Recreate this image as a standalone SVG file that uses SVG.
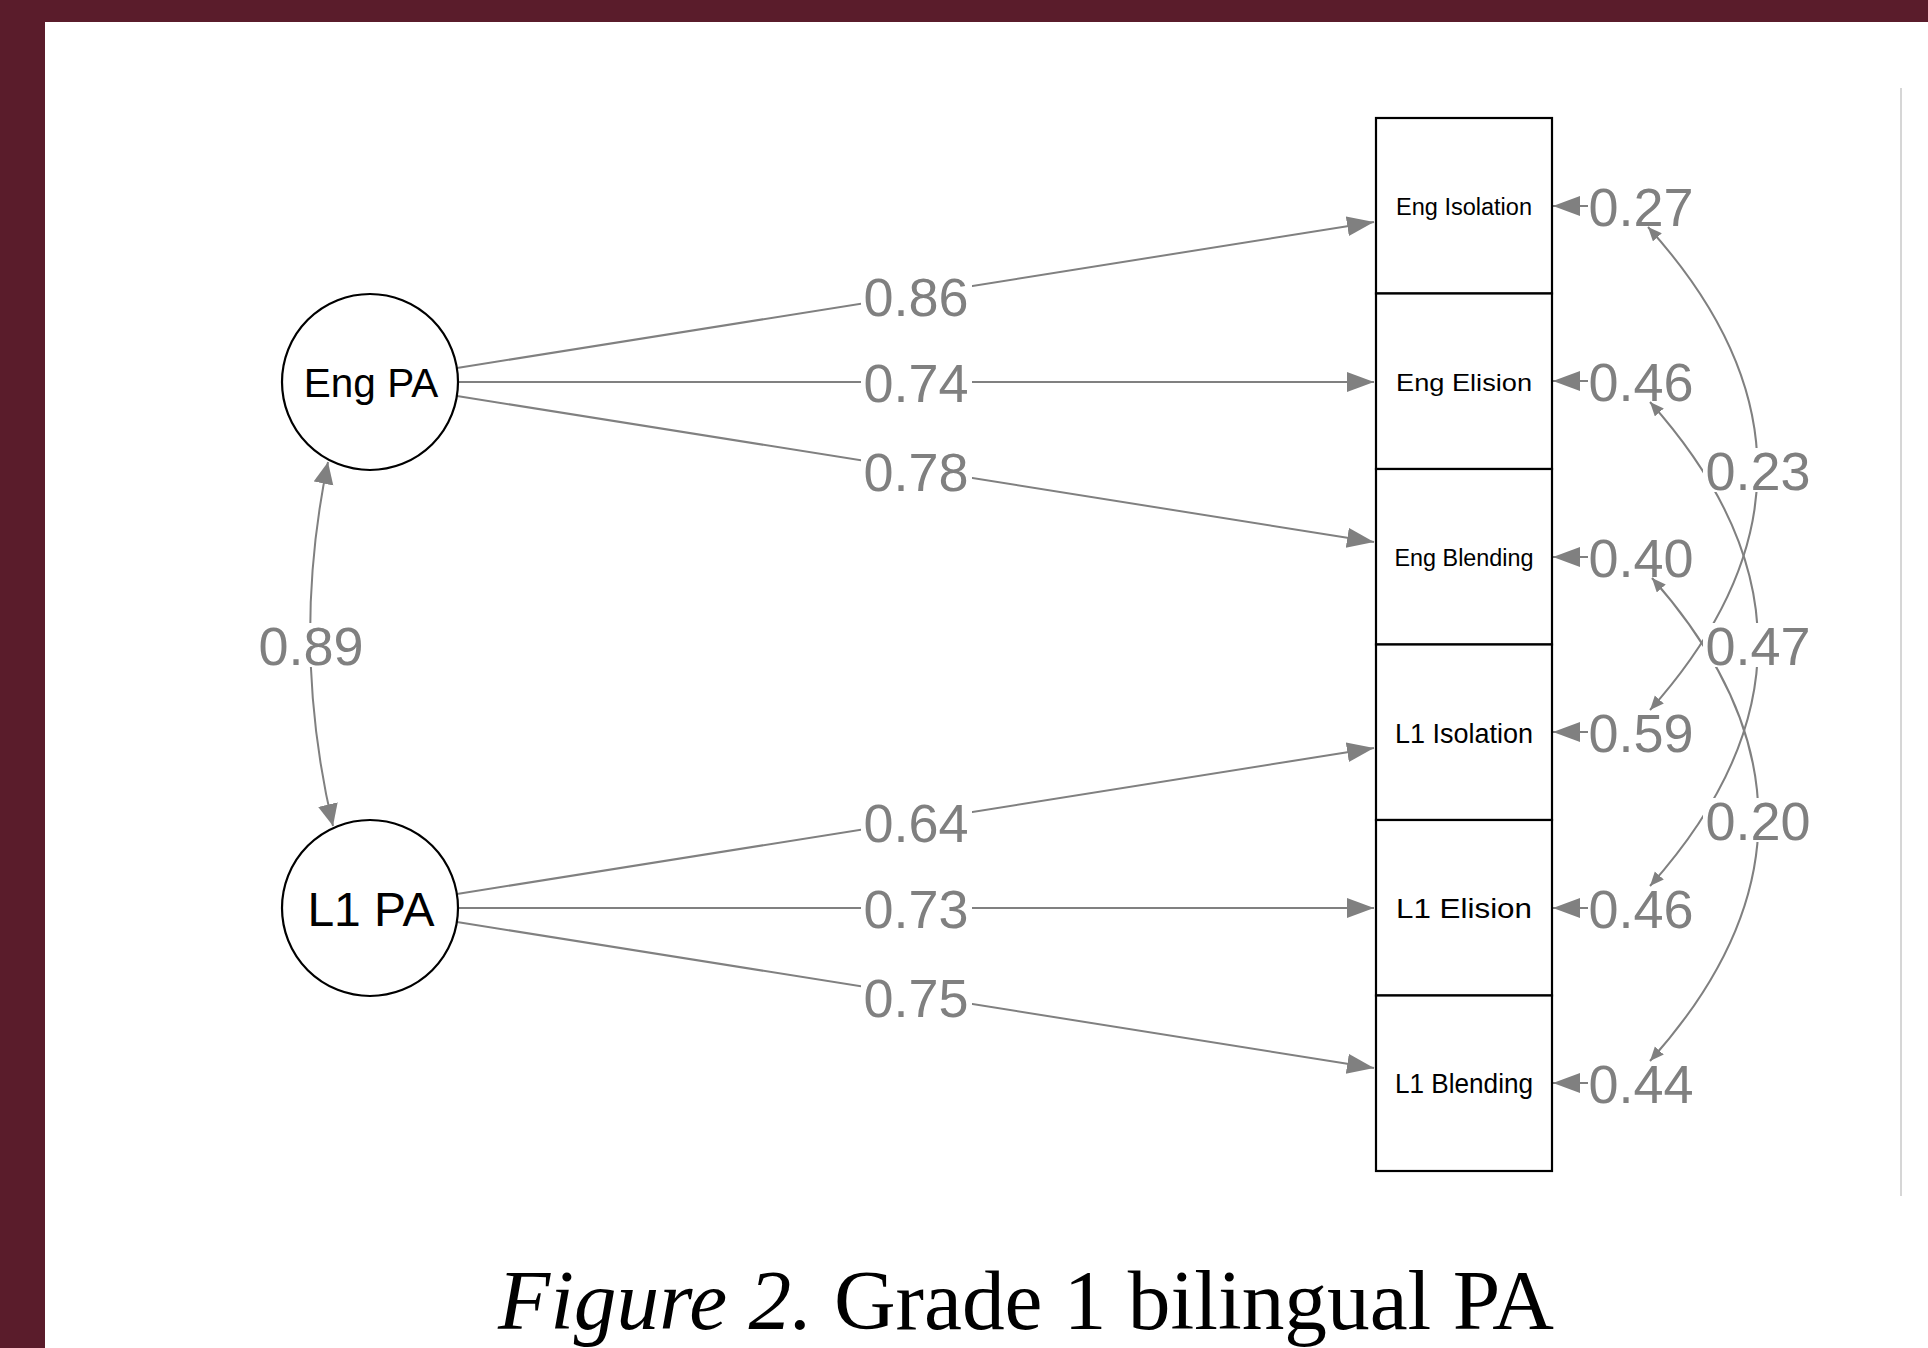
<svg xmlns="http://www.w3.org/2000/svg" width="1928" height="1348" viewBox="0 0 1928 1348">
<style>
.edge{stroke:#808080;stroke-width:2;fill:none}
.lbl{font-family:"Liberation Sans",Arial,sans-serif;font-size:54px;fill:#808080;text-anchor:middle}
.bg{fill:#ffffff}
.box{fill:#ffffff;stroke:#000000;stroke-width:2.2}
.node{fill:#ffffff;stroke:#000000;stroke-width:2.2}
.ntxt{font-family:"Liberation Sans",Arial,sans-serif;fill:#000000;text-anchor:middle}
</style>
<defs>
<marker id="ah" markerUnits="userSpaceOnUse" markerWidth="28" markerHeight="22" refX="27" refY="10" orient="auto-start-reverse"><path d="M0,0 L27,10 L0,20 z" fill="#808080"/></marker>
<marker id="ahm" markerUnits="userSpaceOnUse" markerWidth="24" markerHeight="22" refX="22" refY="10" orient="auto-start-reverse"><path d="M0,0 L22,10 L0,20 z" fill="#808080"/></marker>
<marker id="ahs" markerUnits="userSpaceOnUse" markerWidth="16" markerHeight="14" refX="14" refY="6" orient="auto-start-reverse"><path d="M0,0 L14,6 L0,12 z" fill="#808080"/></marker>
</defs>
<rect x="0" y="0" width="1928" height="1348" fill="#5a1c2b"/>
<rect x="45" y="22" width="1883" height="1326" fill="#ffffff"/>
<line x1="1901" y1="88" x2="1901" y2="1196" stroke="#c8c8c8" stroke-width="1.5"/>

<g id="connectors">
  <line class="edge" x1="457" y1="368" x2="1374" y2="222" marker-end="url(#ah)"/>
  <line class="edge" x1="458" y1="382" x2="1374" y2="382" marker-end="url(#ah)"/>
  <line class="edge" x1="457" y1="396" x2="1374" y2="542" marker-end="url(#ah)"/>
  <line class="edge" x1="457" y1="894" x2="1374" y2="748" marker-end="url(#ah)"/>
  <line class="edge" x1="458" y1="908" x2="1374" y2="908" marker-end="url(#ah)"/>
  <line class="edge" x1="457" y1="922" x2="1374" y2="1068" marker-end="url(#ah)"/>
  <path class="edge" d="M328,462 Q290,644 333,826" marker-start="url(#ahm)" marker-end="url(#ahm)"/>
  <line class="edge" x1="1588" y1="206" x2="1553" y2="206" marker-end="url(#ah)"/>
  <line class="edge" x1="1588" y1="381" x2="1553" y2="381" marker-end="url(#ah)"/>
  <line class="edge" x1="1588" y1="557" x2="1553" y2="557" marker-end="url(#ah)"/>
  <line class="edge" x1="1588" y1="732" x2="1553" y2="732" marker-end="url(#ah)"/>
  <line class="edge" x1="1588" y1="908" x2="1553" y2="908" marker-end="url(#ah)"/>
  <line class="edge" x1="1588" y1="1083" x2="1553" y2="1083" marker-end="url(#ah)"/>

  <rect class="bg" x="861" y="273" width="111" height="44"/>
  <text class="lbl" x="916" y="315.5">0.86</text>
  <rect class="bg" x="861" y="360" width="111" height="44"/>
  <text class="lbl" x="916" y="401.5">0.74</text>
  <rect class="bg" x="861" y="449" width="111" height="44"/>
  <text class="lbl" x="916" y="490.5">0.78</text>
  <rect class="bg" x="861" y="799" width="111" height="44"/>
  <text class="lbl" x="916" y="841.5">0.64</text>
  <rect class="bg" x="861" y="886" width="111" height="44"/>
  <text class="lbl" x="916" y="927.5">0.73</text>
  <rect class="bg" x="861" y="975" width="111" height="44"/>
  <text class="lbl" x="916" y="1016.5">0.75</text>
  <rect class="bg" x="257" y="623" width="108" height="44"/>
  <text class="lbl" x="311" y="665">0.89</text>

  <text class="lbl" x="1641" y="225.5">0.27</text>
  <text class="lbl" x="1641" y="400.5">0.46</text>
  <text class="lbl" x="1641" y="576.5">0.40</text>
  <text class="lbl" x="1641" y="751.5">0.59</text>
  <text class="lbl" x="1641" y="927.5">0.46</text>
  <text class="lbl" x="1641" y="1102.5">0.44</text>

  <path class="edge" d="M1648,227 Q1866,468 1650,710" marker-start="url(#ahs)" marker-end="url(#ahs)"/>
  <path class="edge" d="M1650,402 Q1866,644 1650,886" marker-start="url(#ahs)" marker-end="url(#ahs)"/>
  <path class="edge" d="M1652,578 Q1866,820 1650,1061" marker-start="url(#ahs)" marker-end="url(#ahs)"/>

  <rect class="bg" x="1703" y="448" width="110" height="44"/>
  <text class="lbl" x="1758" y="490">0.23</text>
  <rect class="bg" x="1703" y="623" width="110" height="44"/>
  <text class="lbl" x="1758" y="665">0.47</text>
  <rect class="bg" x="1703" y="798" width="110" height="44"/>
  <text class="lbl" x="1758" y="840">0.20</text>
</g>

<g id="node-eng-pa">
  <circle class="node" cx="370" cy="382" r="88"/>
  <text class="ntxt" x="371" y="397" font-size="40.5">Eng PA</text>
</g>
<g id="node-l1-pa">
  <circle class="node" cx="370" cy="908" r="88"/>
  <text class="ntxt" x="371" y="926" font-size="48">L1 PA</text>
</g>

<g id="node-eng-isolation">
  <rect class="box" x="1376" y="118" width="176" height="175.5"/>
  <text class="ntxt" x="1464" y="215" font-size="23" textLength="136" lengthAdjust="spacingAndGlyphs">Eng Isolation</text>
</g>
<g id="node-eng-elision">
  <rect class="box" x="1376" y="293.5" width="176" height="175.5"/>
  <text class="ntxt" x="1464" y="390.5" font-size="24.5" textLength="136" lengthAdjust="spacingAndGlyphs">Eng Elision</text>
</g>
<g id="node-eng-blending">
  <rect class="box" x="1376" y="469" width="176" height="175.5"/>
  <text class="ntxt" x="1464" y="566" font-size="23.5" textLength="139" lengthAdjust="spacingAndGlyphs">Eng Blending</text>
</g>
<g id="node-l1-isolation">
  <rect class="box" x="1376" y="644.5" width="176" height="175.5"/>
  <text class="ntxt" x="1464" y="742.5" font-size="27.5" textLength="138" lengthAdjust="spacingAndGlyphs">L1 Isolation</text>
</g>
<g id="node-l1-elision">
  <rect class="box" x="1376" y="820" width="176" height="175.5"/>
  <text class="ntxt" x="1464" y="918" font-size="28.5" textLength="136" lengthAdjust="spacingAndGlyphs">L1 Elision</text>
</g>
<g id="node-l1-blending">
  <rect class="box" x="1376" y="995.5" width="176" height="175.5"/>
  <text class="ntxt" x="1464" y="1093" font-size="27" textLength="138" lengthAdjust="spacingAndGlyphs">L1 Blending</text>
</g>

<text x="498" y="1329" font-family="'Liberation Serif','Times New Roman',serif" font-size="84" fill="#000000" textLength="1056" lengthAdjust="spacingAndGlyphs"><tspan font-style="italic">Figure 2.</tspan> Grade 1 bilingual PA</text>
</svg>
